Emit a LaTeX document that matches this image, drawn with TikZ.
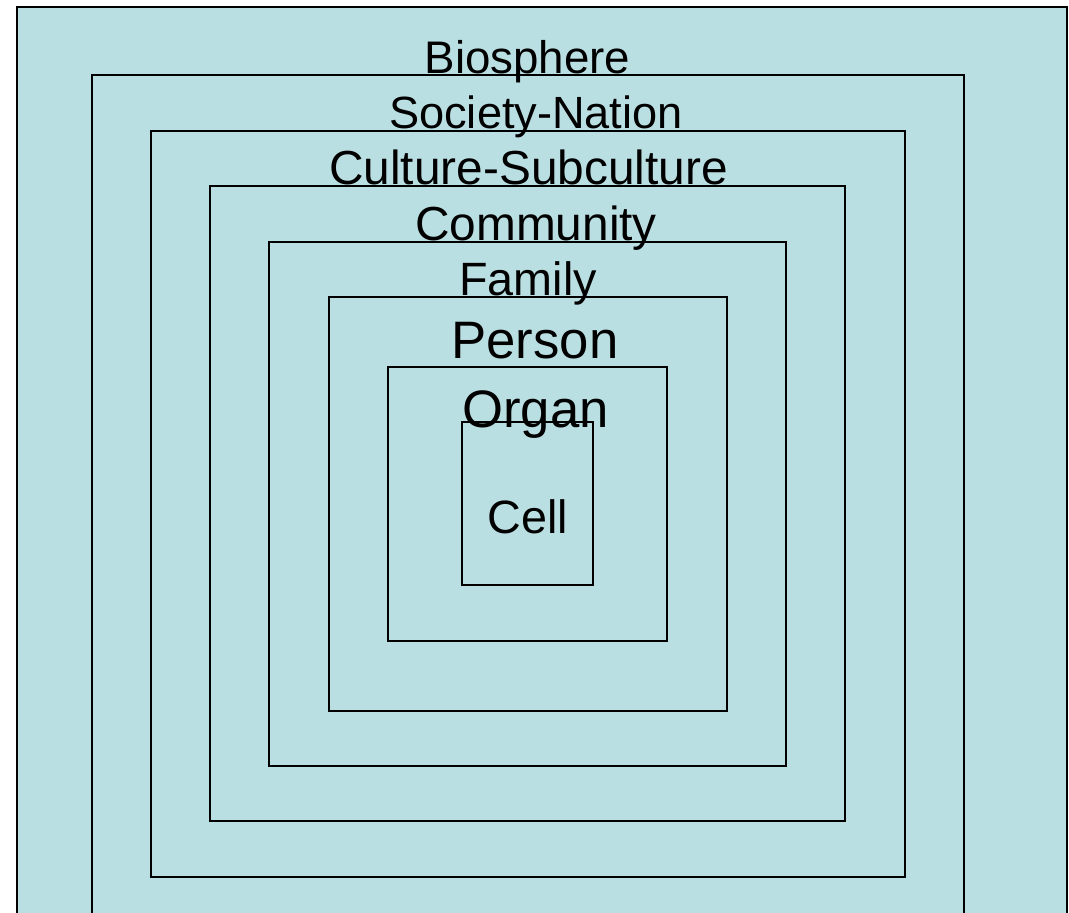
\documentclass[tikz,border=0pt]{standalone}
\usepackage{fontspec}
\setmainfont{Liberation Sans}
\usepackage{xcolor}
\definecolor{levelblue}{RGB}{186,223,226}

\begin{document}
\begin{tikzpicture}[x=0.02cm,y=-0.02cm,
    box/.style={draw=black,fill=levelblue,line width=1.4pt},
    lbl/.style={anchor=base,inner sep=0pt,font=\fontsize{26}{30}\selectfont},
    biglbl/.style={lbl,font=\fontsize{30}{34}\selectfont}]
    \clip (0,0) rectangle (1069,913);
    % nested levels, outside in
    \draw[box] (17,7) rectangle (1067,960);
    \draw[box] (92,75) rectangle (964,960);
    \draw[box] (151,131) rectangle (905,877);
    \draw[box] (210,186) rectangle (845,821);
    \draw[box] (269,242) rectangle (786,766);
    \draw[box] (329,297) rectangle (727,711);
    \draw[box] (388,367) rectangle (667,641);
    \draw[box] (462,422) rectangle (593,585);
    % level names
    \node[lbl] (biosphere) at (527.5,73) {Biosphere};
    \node[lbl,font=\fontsize{25.7}{30}\selectfont] (society) at (536,128.5) {Society-Nation};
    \node[lbl,font=\fontsize{27.2}{30}\selectfont] (culture) at (528.5,184) {Culture-Subculture};
    \node[lbl,font=\fontsize{27.2}{30}\selectfont] (community) at (536,240) {Community};
    \node[lbl,font=\fontsize{26.6}{30}\selectfont] (family) at (528,295) {Family};
    \node[biglbl] (person) at (535,358) {Person};
    \node[biglbl] (organ) at (535.5,427) {Organ};
    \node[lbl,font=\fontsize{26.6}{30}\selectfont] (cell) at (528,533) {Cell};
\end{tikzpicture}
\end{document}
